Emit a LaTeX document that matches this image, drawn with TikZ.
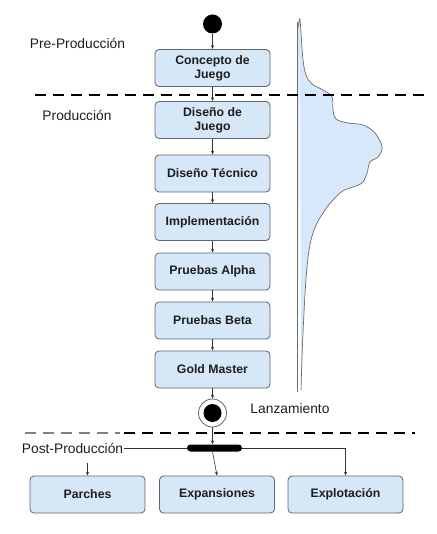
\documentclass[tikz,border=0pt]{standalone}
\usepackage{fontspec}
\setmainfont{Liberation Sans}
\usetikzlibrary{arrows.meta}
\definecolor{boxfill}{RGB}{214,231,248}
\definecolor{boxline}{RGB}{95,100,110}
\definecolor{curvefill}{RGB}{214,232,250}
\definecolor{txt}{RGB}{30,30,30}
\tikzset{
  stepbox/.style={draw=boxline, fill=boxfill, rounded corners=4pt, line width=0.8pt,
    minimum width=115pt, minimum height=37pt, inner sep=0pt, align=center,
    font=\bfseries\fontsize{12.3}{14}\selectfont, text=txt},
  phase/.style={font=\fontsize{13.8}{15}\selectfont, text=txt, inner sep=1pt},
  flow/.style={draw=black!80, line width=0.6pt, -{Stealth[length=4pt,width=3.2pt]}},
  sep/.style={line width=2.6pt, dash pattern=on 11pt off 7pt, black},
}
\begin{document}
\begin{tikzpicture}[x=1pt,y=-1pt]
\useasboundingbox (0,0) rectangle (436,534);
\fill[white] (0,0) rectangle (436,534);

% distribution curve
\fill[curvefill] (297.5,390) -- (297.5,22) -- (300,20)
  plot[smooth, tension=0.6] coordinates {(300,20) (301.5,40) (303,60) (306,75) (312,84) (323,90) (332,97) (333,110) (336,119) (348,123) (363,125) (375,133) (382,147) (378,157) (370,162) (367,173) (362,183) (350,188) (340,193) (325,210) (313,233) (307,267) (303,333) (301,390)} -- cycle;
\draw[gray!85!black, line width=0.7pt] plot[smooth, tension=0.6] coordinates {(297.5,30) (299,22) (300,20) (301.5,40) (303,60) (306,75) (312,84) (323,90) (332,97) (333,110) (336,119) (348,123) (363,125) (375,133) (382,147) (378,157) (370,162) (367,173) (362,183) (350,188) (340,193) (325,210) (313,233) (307,267) (303,333) (301,390)};
\draw[gray!85!black, line width=1pt] (297.5,22) -- (297.5,392);

% nodes
\node[circle, fill=black, minimum size=19pt, inner sep=0pt] (start) at (212.5,24) {};
\node[stepbox] (c1) at (212.5,68) {Concepto de\\Juego};
\node[stepbox] (c2) at (212.5,120) {Diseño de\\Juego};
\node[stepbox] (c3) at (212.5,173.5) {Diseño Técnico};
\node[stepbox] (c4) at (212.5,222) {Implementación};
\node[stepbox] (c5) at (212.5,271.5) {Pruebas Alpha};
\node[stepbox] (c6) at (212.5,320.5) {Pruebas Beta};
\node[stepbox] (c7) at (212.5,369.5) {Gold Master};
\node[circle, draw=boxline, fill=white, line width=0.8pt, minimum size=28pt, inner sep=0pt] (end) at (212.5,413) {};
\node[circle, fill=black, minimum size=18pt, inner sep=0pt] (endin) at (end.center) {};
\node[rounded corners=3.5pt, fill=black, minimum width=55pt, minimum height=7pt, inner sep=0pt] (fork) at (214.5,448) {};
\node[stepbox] (e1) at (87.5,494.5) {Parches};
\node[stepbox] (e2) at (217,494.5) {Expansiones};
\node[stepbox] (e3) at (345.5,494.5) {Explotación};

\node[phase] (pre) at (77.5,43.5) {Pre-Producción};
\node[phase] (prod) at (77,115) {Producción};
\node[phase] (lanz) at (290,409) {Lanzamiento};
\node[phase, fill=white] (post) at (72.5,448) {Post-Producción};

% connectors
\draw[flow] (start) -- (c1);
\draw[flow] (c1) -- (c2);
\draw[flow] (c2) -- (c3);
\draw[flow] (c3) -- (c4);
\draw[flow] (c4) -- (c5);
\draw[flow] (c5) -- (c6);
\draw[flow] (c6) -- (c7);
\draw[flow] (c7) -- (end);
\draw[flow] (end) -- (fork.north -| end);
\draw[flow] (fork.south -| end) -- (e2.north);
\draw[draw=black!80, line width=0.6pt] (post.east) -- (fork.west);
\draw[flow] (fork.east) -| (e3.north);
\coordinate (pstub) at (87.5,463);
\draw[flow] (pstub) -- (e1.north);

% phase separators
\draw[sep] (35,95) -- (425,95);
\draw[gray, line width=1.4pt, dash pattern=on 11pt off 7pt] (25,433) -- (120,433);
\draw[sep] (124,433) -- (415,433);
\end{tikzpicture}
\end{document}
